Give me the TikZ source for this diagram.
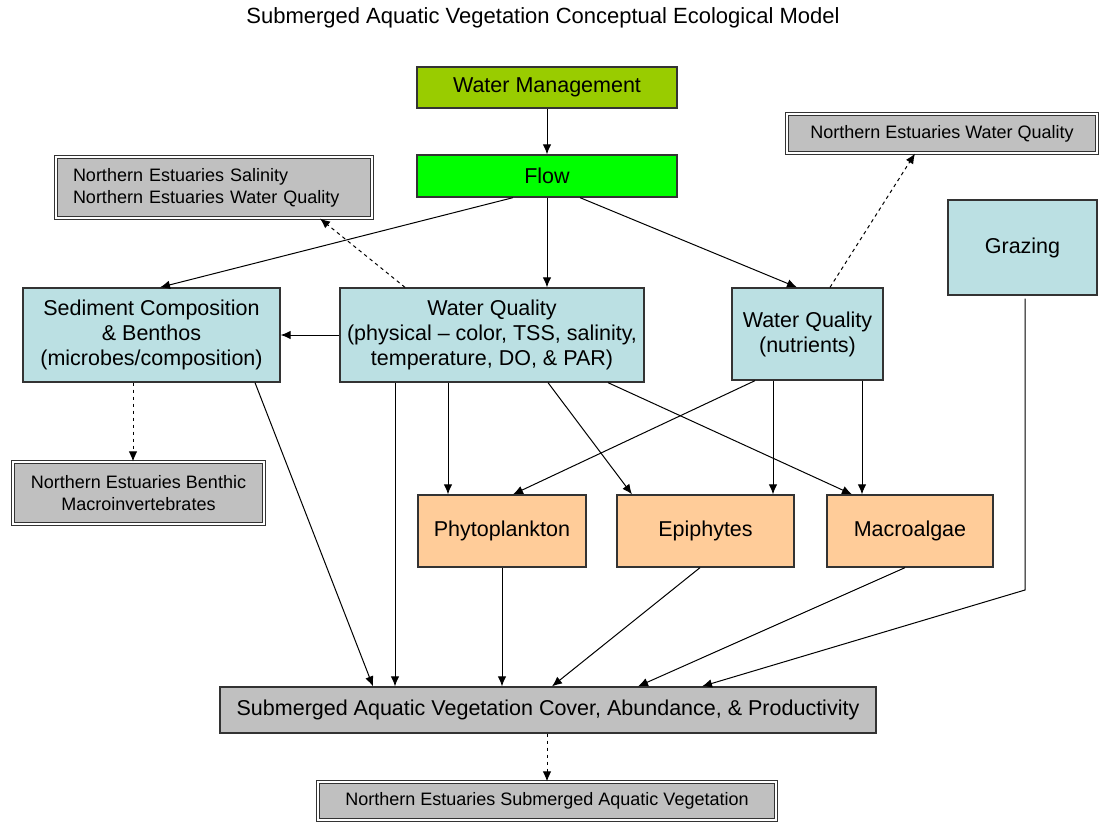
\documentclass[tikz,border=0pt]{standalone}
\usepackage{fontspec}
\setmainfont{Liberation Sans}
\usetikzlibrary{arrows.meta}
\definecolor{wmgreen}{HTML}{99CC00}
\definecolor{flowgreen}{HTML}{00FF00}
\definecolor{lblue}{HTML}{BBE0E3}
\definecolor{lorange}{HTML}{FFCC99}
\definecolor{lgray}{HTML}{C0C0C0}
\definecolor{edge}{HTML}{333333}
\tikzset{
  box/.style={draw=edge, line width=1.3pt, align=center, inner sep=0pt,
    font=\fontsize{21.5}{25}\selectfont},
  dbox/.style={draw=edge, line width=1.2pt, double=white, double distance=1.6pt,
    fill=lgray, align=center, inner sep=0pt, font=\fontsize{18}{22}\selectfont},
  arr/.style={draw=black, line width=1pt, -{Latex[length=10pt,width=8.5pt]}},
  darr/.style={arr, dash pattern=on 3.5pt off 3.5pt},
}
\begin{document}
\begin{tikzpicture}[x=1pt, y=-1pt]
\useasboundingbox[fill=white] (0,0) rectangle (1101,822);

\node[font=\fontsize{22}{25}\selectfont] (title) at (543,18) {Submerged Aquatic Vegetation Conceptual Ecological Model};

\node[box, fill=wmgreen, minimum width=260pt, minimum height=41pt] (wm) at (547,87.5) {Water Management};
\node[box, fill=flowgreen, minimum width=260pt, minimum height=42pt] (flow) at (547,176) {Flow};
\node[dbox, minimum width=316pt, minimum height=61pt, text width=282pt, align=left] (nesal) at (214,187.5) {Northern Estuaries Salinity\\Northern Estuaries Water Quality};
\node[dbox, minimum width=310pt, minimum height=39pt] (newq) at (942,133.5) {Northern Estuaries Water Quality};
\node[box, fill=lblue, minimum width=149pt, minimum height=95pt] (graz) at (1022.5,247.5) {Grazing};
\node[box, fill=lblue, minimum width=257pt, minimum height=94pt] (sed) at (151.5,335) {Sediment Composition\\\& Benthos\\(microbes/composition)};
\node[box, fill=lblue, minimum width=304pt, minimum height=94pt] (wqp) at (492,335) {Water Quality\\(physical -- color, TSS, salinity,\\temperature, DO, \& PAR)};
\node[box, fill=lblue, minimum width=151pt, minimum height=92pt] (wqn) at (807.5,334) {Water Quality\\(nutrients)};
\node[dbox, minimum width=251pt, minimum height=62pt] (ben) at (138.5,493) {Northern Estuaries Benthic\\Macroinvertebrates};
\node[box, fill=lorange, minimum width=168pt, minimum height=72pt] (phy) at (502,531) {Phytoplankton};
\node[box, fill=lorange, minimum width=177pt, minimum height=72pt] (epi) at (705.5,531) {Epiphytes};
\node[box, fill=lorange, minimum width=166pt, minimum height=72pt] (mac) at (910,531) {Macroalgae};
\node[box, fill=lgray, minimum width=656pt, minimum height=46pt] (sav) at (548,710) {Submerged Aquatic Vegetation Cover, Abundance, \& Productivity};
\node[dbox, minimum width=458pt, minimum height=38pt] (nesav) at (547,801) {Northern Estuaries Submerged Aquatic Vegetation};

\coordinate (gbend) at (1025,590);

\draw[arr] (wm.south) -- (flow.north);
\draw[arr] ([xshift=-34pt]flow.south) -- ([xshift=8.5pt]sed.north);
\draw[arr] (flow.south) -- (flow.south |- wqp.north);
\draw[arr] ([xshift=33pt]flow.south) -- ([xshift=-10.5pt]wqn.north);
\draw[darr] ([xshift=-87pt]wqp.north) -- ([xshift=106pt]nesal.south);
\draw[darr] ([xshift=22.5pt]wqn.north) -- ([xshift=-27pt]newq.south);
\draw[arr] (wqp.west) -- (sed.east);
\draw[darr] ([xshift=-18.5pt]sed.south) -- ([xshift=-18.5pt]sed.south |- ben.north);
\draw[arr] ([xshift=103.5pt]sed.south) -- ([xshift=-175pt]sav.north);
\draw[arr] ([xshift=-97pt]wqp.south) -- ([xshift=-97pt]wqp.south |- sav.north);
\draw[arr] ([xshift=-44pt]wqp.south) -- ([xshift=-44pt]wqp.south |- phy.north);
\draw[arr] ([xshift=56pt]wqp.south) -- ([xshift=-73.5pt]epi.north);
\draw[arr] ([xshift=116pt]wqp.south) -- ([xshift=-58pt]mac.north);
\draw[arr] ([xshift=-52.5pt]wqn.south) -- ([xshift=11pt]phy.north);
\draw[arr] ([xshift=-34.5pt]wqn.south) -- ([xshift=-34.5pt]wqn.south |- epi.north);
\draw[arr] ([xshift=54.5pt]wqn.south) -- ([xshift=54.5pt]wqn.south |- mac.north);
\draw[arr] (phy.south) -- (phy.south |- sav.north);
\draw[arr] ([xshift=-5.5pt]epi.south) -- ([xshift=4pt]sav.north);
\draw[arr] ([xshift=-5pt]mac.south) -- ([xshift=90pt]sav.north);
\draw[arr] ([xshift=2.5pt,yshift=-3pt]graz.south) -- (gbend) -- ([xshift=154pt]sav.north);
\draw[darr] ([xshift=-1pt]sav.south) -- ([xshift=-1pt]sav.south |- nesav.north);
\end{tikzpicture}
\end{document}
